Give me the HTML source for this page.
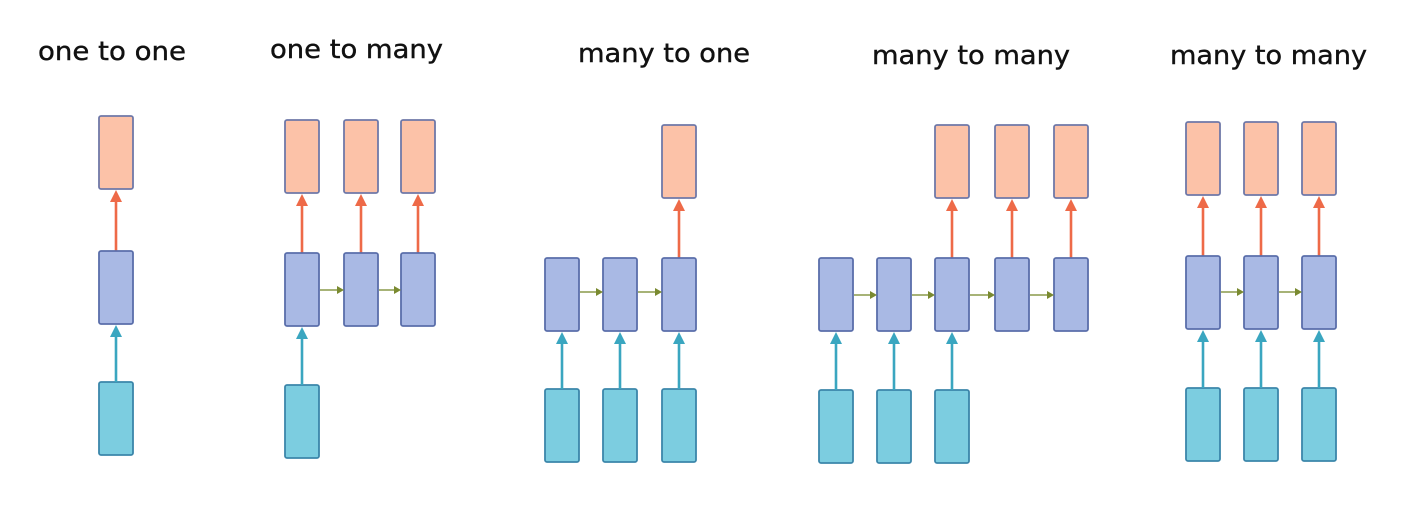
<!DOCTYPE html>
<html><head><meta charset="utf-8"><style>
html,body{margin:0;padding:0;background:#fff;}
svg{display:block}
text{font-family:"DejaVu Sans","Liberation Sans",sans-serif;font-size:26px;fill:#111;stroke:#111;stroke-width:0.4}
.r{fill:#fcc2a8;stroke:#6f78a8;stroke-width:1.8}
.b{fill:#a9b9e4;stroke:#5a6eaa;stroke-width:1.8}
.c{fill:#7ccde0;stroke:#3b86aa;stroke-width:1.8}
.ar{stroke:#ee6a48;stroke-width:2.6}
.ac{stroke:#3aa6c0;stroke-width:2.6}
.ag{stroke:#8a9a4a;stroke-width:1.5}
</style></head><body>
<svg width="1404" height="512" viewBox="0 0 1404 512" xmlns="http://www.w3.org/2000/svg">
<text x="38" y="60" textLength="148" lengthAdjust="spacingAndGlyphs">one to one</text>
<text x="270" y="58" textLength="173" lengthAdjust="spacingAndGlyphs">one to many</text>
<text x="578" y="62" textLength="172" lengthAdjust="spacingAndGlyphs">many to one</text>
<text x="872" y="64" textLength="198" lengthAdjust="spacingAndGlyphs">many to many</text>
<text x="1170" y="64" textLength="197" lengthAdjust="spacingAndGlyphs">many to many</text>
<g id="all"></g>
</svg>
<script>
(function(){
var g=document.getElementById('all'),NS='http://www.w3.org/2000/svg';
function el(t,a){var e=document.createElementNS(NS,t);for(var k in a)e.setAttribute(k,a[k]);g.appendChild(e);return e;}
function rect(x,y,cls){el('rect',{x:x,y:y,width:34,height:73,rx:2,'class':cls});}
function up(cx,y1,y2,col,cls){el('line',{x1:cx,y1:y1,x2:cx,y2:y2+10,'class':cls});el('path',{d:'M'+(cx-6)+','+(y2+12)+' L'+cx+','+y2+' L'+(cx+6)+','+(y2+12)+' Z',fill:col});}
function right(x1,x2,y){el('line',{x1:x1,y1:y,x2:x2-5,y2:y,'class':'ag'});el('path',{d:'M'+(x2-7)+','+(y-4)+' L'+x2+','+y+' L'+(x2-7)+','+(y+4)+' Z',fill:'#7a8a30'});}
function col(x,ry,by,cy,hasR,hasC){
  var cx=x+17;
  if(hasR){rect(x,ry,'r');up(cx,by,ry+74,'#ee6a48','ar');}
  rect(x,by,'b');
  if(hasC){rect(x,cy,'c');up(cx,cy,by+74,'#3aa6c0','ac');}
}
col(99,116,251,382,1,1);
var xs=[285,344,401],i;
xs.forEach(function(x,i){col(x,120,253,385,1,i==0);});
for(i=0;i<2;i++)right(xs[i]+35,xs[i+1],290);
xs=[545,603,662];
xs.forEach(function(x,i){col(x,125,258,389,i==2,1);});
for(i=0;i<2;i++)right(xs[i]+35,xs[i+1],292);
xs=[819,877,935,995,1054];
xs.forEach(function(x,i){col(x,125,258,390,i>=2,i<=2);});
for(i=0;i<4;i++)right(xs[i]+35,xs[i+1],295);
xs=[1186,1244,1302];
xs.forEach(function(x,i){col(x,122,256,388,1,1);});
for(i=0;i<2;i++)right(xs[i]+35,xs[i+1],292);
})();
</script>
</body></html>
